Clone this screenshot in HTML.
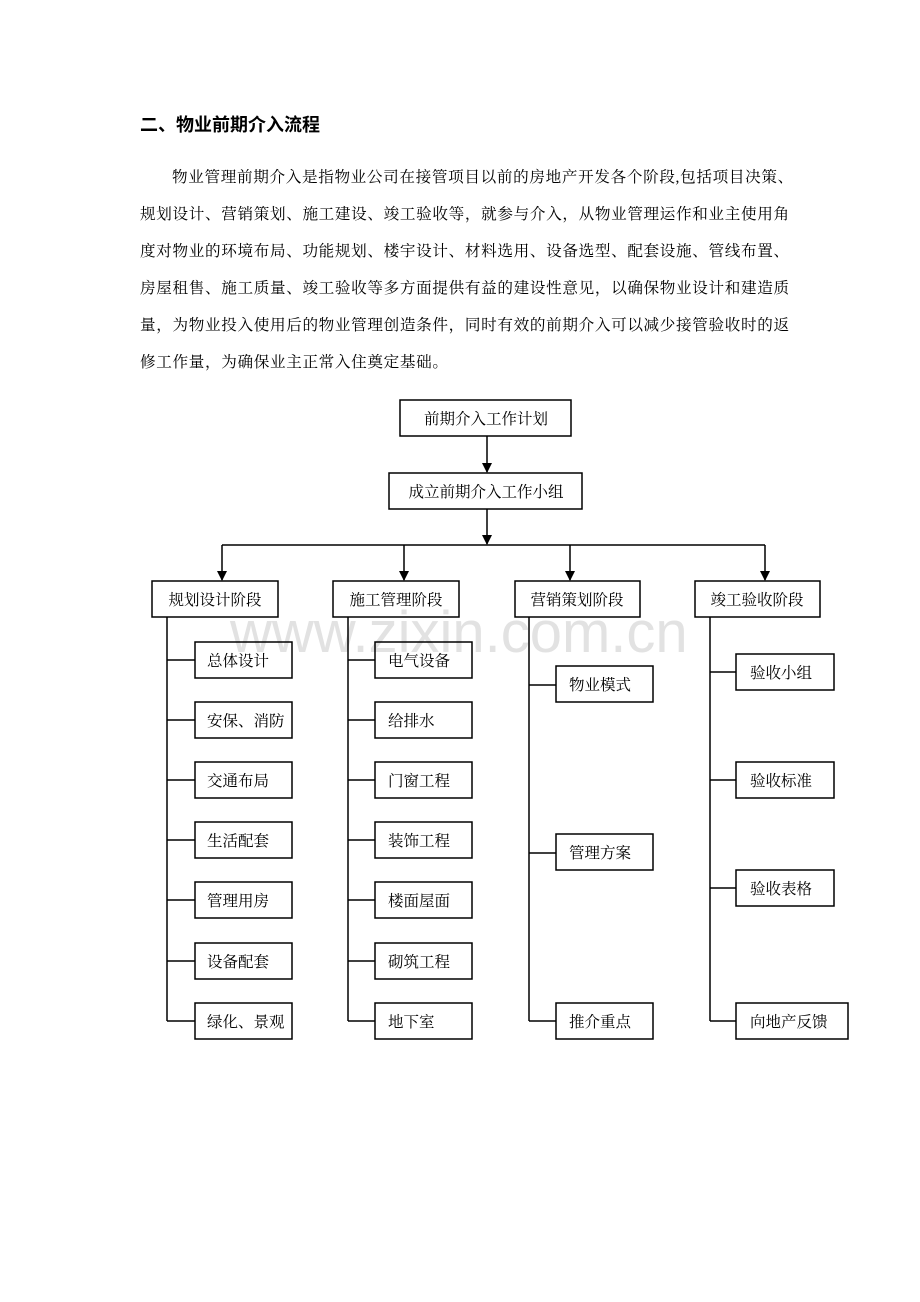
<!DOCTYPE html>
<html><head><meta charset="utf-8"><style>
body{margin:0;background:#fff;}
.p{position:absolute;left:0;top:0;width:920px;height:1302px;overflow:hidden;font-family:"Liberation Serif","Noto Serif CJK SC",serif;color:#000}
.t{position:absolute;white-space:nowrap;font-size:15.6px;line-height:20px;letter-spacing:0.65px}
</style></head><body><div class="p">
<div class="t" style="left:140px;top:115px;font-size:18px;letter-spacing:0;font-weight:bold;font-family:'Liberation Sans','Noto Sans CJK SC',sans-serif">二、物业前期介入流程</div>
<div class="t" style="left:172px;top:168px">物业管理前期介入是指物业公司在接管项目以前的房地产开发各个阶段,包括项目决策、</div>
<div class="t" style="left:140px;top:205px">规划设计、营销策划、施工建设、竣工验收等，就参与介入，从物业管理运作和业主使用角</div>
<div class="t" style="left:140px;top:242px">度对物业的环境布局、功能规划、楼宇设计、材料选用、设备选型、配套设施、管线布置、</div>
<div class="t" style="left:140px;top:279px">房屋租售、施工质量、竣工验收等多方面提供有益的建设性意见，以确保物业设计和建造质</div>
<div class="t" style="left:140px;top:316px">量，为物业投入使用后的物业管理创造条件，同时有效的前期介入可以减少接管验收时的返</div>
<div class="t" style="left:140px;top:353px">修工作量，为确保业主正常入住奠定基础。</div>
<div class="t" style="left:230px;top:601px;font-size:58px;letter-spacing:0;line-height:64px;color:#e2e2e2;font-family:'Liberation Sans',sans-serif">www.zixin.com.cn</div>
<svg width="920" height="1302" style="position:absolute;left:0;top:0" font-family="Liberation Serif, Noto Serif CJK SC, serif" font-size="15.5">
<defs><marker id="a" markerWidth="10" markerHeight="10" refX="9" refY="5" orient="auto" markerUnits="userSpaceOnUse"><path d="M0,0L10,5L0,10z" fill="#000"/></marker></defs>
<g stroke="#000" stroke-width="1.5" fill="none">
<rect x="400" y="400" width="171" height="36" fill="#fff"/>
<rect x="389" y="473" width="193" height="36" fill="#fff"/>
<line x1="487" y1="436" x2="487" y2="472" marker-end="url(#a)"/>
<line x1="487" y1="509" x2="487" y2="544" marker-end="url(#a)"/>
<line x1="222" y1="545" x2="765" y2="545"/>
<line x1="222" y1="545" x2="222" y2="580" marker-end="url(#a)"/>
<line x1="404" y1="545" x2="404" y2="580" marker-end="url(#a)"/>
<line x1="570" y1="545" x2="570" y2="580" marker-end="url(#a)"/>
<line x1="765" y1="545" x2="765" y2="580" marker-end="url(#a)"/>
<rect x="152" y="581" width="126" height="36"/>
<rect x="333" y="581" width="126" height="36"/>
<rect x="515" y="581" width="125" height="36"/>
<rect x="695" y="581" width="125" height="36"/>
<line x1="167" y1="617" x2="167" y2="1021"/>
<line x1="348" y1="617" x2="348" y2="1021"/>
<line x1="529" y1="617" x2="529" y2="1021"/>
<line x1="710" y1="617" x2="710" y2="1021"/>
</g>
<g fill="#000" text-anchor="middle">
<text x="486" y="424">前期介入工作计划</text>
<text x="486" y="497">成立前期介入工作小组</text>
<text x="215" y="605">规划设计阶段</text>
<text x="396" y="605">施工管理阶段</text>
<text x="577" y="605">营销策划阶段</text>
<text x="757" y="605">竣工验收阶段</text>
</g>
<g stroke="#000" stroke-width="1.5" fill="none">
<path d="M167 660H195M167 720H195M167 780H195M167 840H195M167 900H195M167 961H195M167 1021H195"/>
<path d="M348 660H375M348 720H375M348 780H375M348 840H375M348 900H375M348 961H375M348 1021H375"/>
<path d="M529 685H556M529 853H556M529 1021H556"/>
<path d="M710 672H736M710 780H736M710 888H736M710 1021H736"/>
<rect x="195" y="642" width="97" height="36"/><rect x="195" y="702" width="97" height="36"/><rect x="195" y="762" width="97" height="36"/><rect x="195" y="822" width="97" height="36"/><rect x="195" y="882" width="97" height="36"/><rect x="195" y="943" width="97" height="36"/><rect x="195" y="1003" width="97" height="36"/>
<rect x="375" y="642" width="97" height="36"/><rect x="375" y="702" width="97" height="36"/><rect x="375" y="762" width="97" height="36"/><rect x="375" y="822" width="97" height="36"/><rect x="375" y="882" width="97" height="36"/><rect x="375" y="943" width="97" height="36"/><rect x="375" y="1003" width="97" height="36"/>
<rect x="556" y="666" width="97" height="36"/><rect x="556" y="834" width="97" height="36"/><rect x="556" y="1003" width="97" height="36"/>
<rect x="736" y="654" width="98" height="36"/><rect x="736" y="762" width="98" height="36"/><rect x="736" y="870" width="98" height="36"/><rect x="736" y="1003" width="112" height="36"/>
</g>
<g fill="#000">
<text x="207" y="666">总体设计</text><text x="207" y="726">安保、消防</text><text x="207" y="786">交通布局</text><text x="207" y="846">生活配套</text><text x="207" y="906">管理用房</text><text x="207" y="967">设备配套</text><text x="207" y="1027">绿化、景观</text>
<text x="388" y="666">电气设备</text><text x="388" y="726">给排水</text><text x="388" y="786">门窗工程</text><text x="388" y="846">装饰工程</text><text x="388" y="906">楼面屋面</text><text x="388" y="967">砌筑工程</text><text x="388" y="1027">地下室</text>
<text x="569" y="690">物业模式</text><text x="569" y="858">管理方案</text><text x="569" y="1027">推介重点</text>
<text x="750" y="678">验收小组</text><text x="750" y="786">验收标准</text><text x="750" y="894">验收表格</text><text x="750" y="1027">向地产反馈</text>
</g>
</svg>
</div></body></html>
